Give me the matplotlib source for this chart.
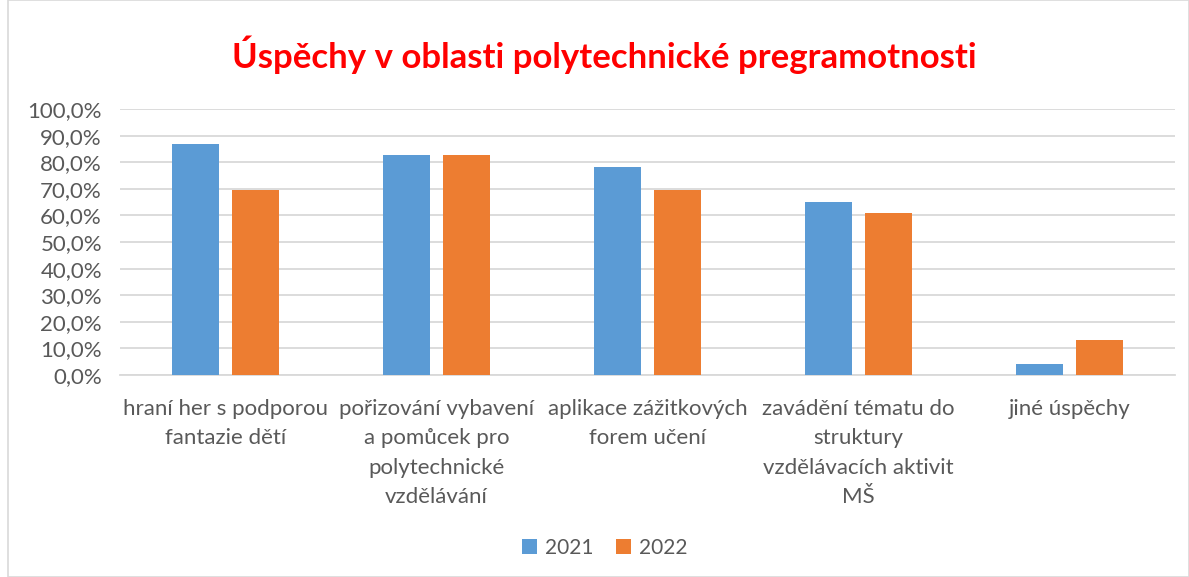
import matplotlib.pyplot as plt
import numpy as np
from matplotlib.patches import Rectangle
from matplotlib.ticker import FuncFormatter

plt.rcParams['font.family'] = ['Lato', 'DejaVu Sans']

categories = ['hraní her s podporou\nfantazie dětí',
              'pořizování vybavení\na pomůcek pro\npolytechnické\nvzdělávání',
              'aplikace zážitkových\nforem učení',
              'zavádění tématu do\nstruktury\nvzdělávacích aktivit\nMŠ',
              'jiné úspěchy']
vals_2021 = [87.0, 82.6, 78.3, 65.2, 4.3]
vals_2022 = [69.6, 82.6, 69.6, 60.9, 13.0]

blue = '#5b9bd5'
orange = '#ed7d31'
grey = '#595959'

fig = plt.figure(figsize=(11.89, 5.77), dpi=100)
ax = fig.add_axes([120/1189, 1 - 375/577, 1055/1189, 266/577])

x = np.arange(len(categories))
w = 0.223
ax.bar(x - 0.142, vals_2021, w, color=blue, label='2021', zorder=3)
ax.bar(x + 0.142, vals_2022, w, color=orange, label='2022', zorder=3)

ax.set_xlim(-0.5, len(categories) - 0.5)
ax.set_ylim(0, 100)
ax.set_yticks(np.arange(0, 101, 10))
ax.yaxis.set_major_formatter(FuncFormatter(lambda v, p: f'{v:.1f}%'.replace('.', ',')))
ax.grid(axis='y', color='#d9d9d9', linewidth=1.3, zorder=0)
for s in ['top', 'right', 'left']:
    ax.spines[s].set_visible(False)
ax.spines['bottom'].set_color('#d9d9d9')
ax.spines['bottom'].set_linewidth(1.3)
ax.tick_params(axis='both', length=0, colors=grey, labelsize=16)
ax.tick_params(axis='y', pad=13)
ax.tick_params(axis='x', pad=17)
ax.set_xticks(x)
ax.set_xticklabels(categories, linespacing=1.6, va='top')

fig.text(604/1189, 1 - 55/577, 'Úspěchy v oblasti polytechnické pregramotnosti',
         ha='center', va='center', color='#ff0000', fontsize=25, fontweight='bold')

fig.legend(loc='center', bbox_to_anchor=(605/1189, 1 - 548/577), ncol=2, frameon=False,
           fontsize=15, handlelength=0.7, handleheight=0.7, columnspacing=1.1,
           handletextpad=0.4, labelcolor=grey)

fig.patches.append(Rectangle((8/1189, 0), 1 - 8/1189, 1, transform=fig.transFigure,
                             fill=False, edgecolor='#d9d9d9', linewidth=1.2))

fig.savefig('out.png', dpi=100)
